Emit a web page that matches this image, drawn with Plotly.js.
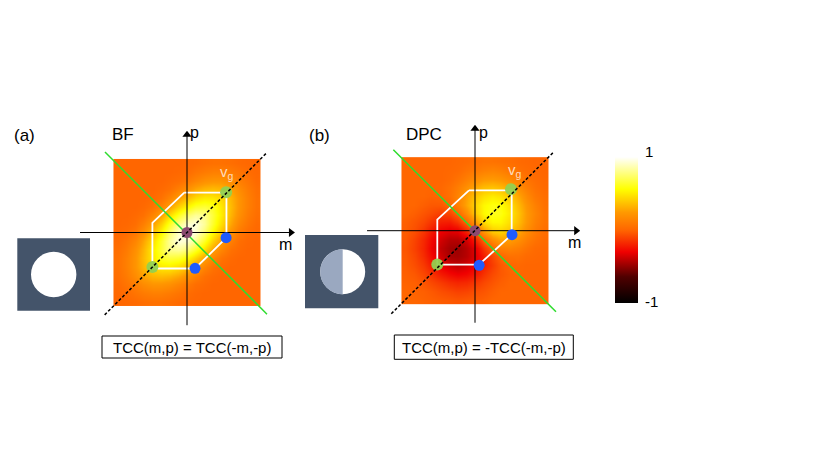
<!DOCTYPE html>
<html>
<head>
<meta charset="utf-8">
<script src="https://cdn.plot.ly/plotly-3.0.1.min.js"></script>
<style>html,body{margin:0;padding:0;background:#fff;}#chart{width:830px;height:469px;}</style>
</head>
<body>
<div id="chart"></div>
<script>
// ---------- data ----------
const mGrid = [-1,-0.875,-0.75,-0.625,-0.5,-0.375,-0.25,-0.125,0,0.125,0.25,0.375,0.5,0.625,0.75,0.875,1];
const pGrid = [-1,-0.875,-0.75,-0.625,-0.5,-0.375,-0.25,-0.125,0,0.125,0.25,0.375,0.5,0.625,0.75,0.875,1];

// TCC, bright field (rows: p from -1 to 1, cols: m from -1 to 1)
const tccBF = [
 [0,.01,.02,.04,.05,.05,.04,.02,.01,0,0,0,0,0,0,0,0],
 [.01,.03,.07,.1,.12,.12,.1,.07,.03,.01,0,0,0,0,0,0,0],
 [.02,.07,.12,.18,.22,.22,.2,.15,.09,.04,.02,0,0,0,0,0,0],
 [.04,.1,.18,.27,.33,.35,.33,.28,.2,.12,.05,.02,0,0,0,0,0],
 [.05,.12,.22,.33,.44,.49,.5,.45,.36,.25,.14,.06,.02,0,0,0,0],
 [.05,.12,.22,.35,.49,.62,.66,.64,.55,.42,.27,.15,.06,.02,0,0,0],
 [.04,.1,.2,.33,.5,.66,.8,.82,.75,.62,.45,.27,.14,.05,.02,0,0],
 [.02,.07,.15,.28,.45,.64,.82,.94,.91,.8,.62,.42,.25,.12,.04,.01,0],
 [.01,.03,.09,.2,.36,.55,.75,.91,1,.91,.75,.55,.36,.2,.09,.03,.01],
 [0,.01,.04,.12,.25,.42,.62,.8,.91,.94,.82,.64,.45,.28,.15,.07,.02],
 [0,0,.02,.05,.14,.27,.45,.62,.75,.82,.8,.66,.5,.33,.2,.1,.04],
 [0,0,0,.02,.06,.15,.27,.42,.55,.64,.66,.62,.49,.35,.22,.12,.05],
 [0,0,0,0,.02,.06,.14,.25,.36,.45,.5,.49,.44,.33,.22,.12,.05],
 [0,0,0,0,0,.02,.05,.12,.2,.28,.33,.35,.33,.27,.18,.1,.04],
 [0,0,0,0,0,0,.02,.04,.09,.15,.2,.22,.22,.18,.12,.07,.02],
 [0,0,0,0,0,0,0,.01,.03,.07,.1,.12,.12,.1,.07,.03,.01],
 [0,0,0,0,0,0,0,0,.01,.02,.04,.05,.05,.04,.02,.01,0]
];

// TCC, differential phase contrast
const tccDPC = [
 [0,0,-.01,-.02,-.03,-.04,-.05,-.04,-.03,-.02,0,0,0,0,0,0,0],
 [0,-.01,-.02,-.04,-.07,-.09,-.11,-.1,-.07,-.05,-.02,0,0,0,0,0,0],
 [-.01,-.02,-.05,-.09,-.13,-.17,-.19,-.18,-.14,-.09,-.05,-.02,0,0,0,0,0],
 [-.02,-.04,-.09,-.15,-.22,-.27,-.3,-.28,-.23,-.15,-.08,-.04,-.01,0,0,0,0],
 [-.03,-.07,-.13,-.22,-.31,-.37,-.4,-.36,-.3,-.21,-.12,-.04,0,.01,0,0,0],
 [-.04,-.09,-.17,-.27,-.37,-.45,-.46,-.42,-.33,-.22,-.09,0,.05,.05,.02,.01,0],
 [-.05,-.11,-.19,-.3,-.4,-.46,-.48,-.42,-.32,-.15,0,.12,.14,.11,.06,.02,.01],
 [-.04,-.1,-.18,-.28,-.36,-.42,-.42,-.36,-.19,0,.19,.28,.26,.2,.12,.06,.02],
 [-.03,-.07,-.14,-.23,-.3,-.33,-.32,-.19,0,.24,.4,.43,.38,.29,.18,.09,.04],
 [-.02,-.05,-.09,-.15,-.21,-.22,-.15,0,.24,.45,.54,.54,.46,.35,.23,.12,.06],
 [0,-.02,-.05,-.08,-.12,-.09,0,.19,.4,.54,.61,.59,.5,.37,.24,.14,.06],
 [0,0,-.02,-.04,-.04,0,.12,.28,.43,.54,.59,.57,.47,.34,.22,.12,.05],
 [0,0,0,-.01,0,.05,.14,.26,.38,.46,.5,.47,.39,.28,.17,.08,.04],
 [0,0,0,0,.01,.05,.11,.2,.29,.35,.37,.34,.28,.19,.11,.05,.02],
 [0,0,0,0,0,.02,.06,.12,.18,.23,.24,.22,.17,.11,.06,.03,.01],
 [0,0,0,0,0,.01,.02,.06,.09,.12,.14,.12,.08,.05,.03,.01,0],
 [0,0,0,0,0,0,.01,.02,.04,.06,.06,.05,.04,.02,.01,0,0]
];

// pupil-overlap hexagons (m, p)
const hexA_m = [-0.04, 0.57, 0.57, 0.116, -0.50, -0.50, -0.04];
const hexA_p = [0.575, 0.575, -0.075, -0.52, -0.52, 0.14, 0.575];
const hexB_m = [-0.087, 0.53, 0.53, 0.058, -0.545, -0.545, -0.087];
const hexB_p = [0.584, 0.584, -0.058, -0.49, -0.49, 0.159, 0.584];

// points
const greenA_m = [0.565, -0.50], greenA_p = [0.58, -0.50];
const blueA_m  = [0.565, 0.116], blueA_p  = [-0.075, -0.517];
const greenB_m = [0.52, -0.545], greenB_p = [0.6, -0.49];
const blueB_m  = [0.535, 0.06],  blueB_p  = [-0.058, -0.5];
const origin_m = [0], origin_p = [0];

// symmetry lines
const diagA_m = [-1.19, 1.16], diagA_p = [-1.19, 1.16];
const antiA_m = [-1.185, 1.156], antiA_p = [1.163, -1.18];
const diagB_m = [-1.21, 1.13], diagB_p = [-1.2, 1.13];
const antiB_m = [-1.18, 1.17], antiB_p = [1.17, -1.17];

// coordinate axes extents
const axA_m = [-1.546, 1.56], axA_p = [-1.34, 1.47];
const axB_m = [-1.56, 1.52],  axB_p = [-1.33, 1.53];

const cbTicks = ['1', '-1'];
const panelLabels = ['(a)', '(b)'];
const modeLabels = ['BF', 'DPC'];
const eqLabels = ['TCC(m,p) = TCC(-m,-p)', 'TCC(m,p) = -TCC(-m,-p)'];

// ---------- layout helpers ----------
const W = 830, H = 469, U = 69.2;
const cA = [187, 232.5], cB = [475, 230.7];
const xr = [-1.75, 1.75], yr = [-1.55, 1.65];
const xd = c => [(c[0] + xr[0]*U)/W, (c[0] + xr[1]*U)/W];
const yd = c => [1 - (c[1] - yr[0]*U)/H, 1 - (c[1] - yr[1]*U)/H];
const px = x => x / W, py = y => 1 - y / H;
const FONT = 'Liberation Sans, Arial, sans-serif';
const HEAD = 4 / U; // arrow head offset (4 px) in data units

const cs = [[0,'#000000'],[0.18,'#500000'],[0.35,'#f00000'],[0.5,'#ff6600'],[0.62,'#ff9900'],[0.78,'#ffff00'],[1,'#ffffff']];

const ax = (dom, r) => ({domain: dom, range: r, showgrid:false, zeroline:false, showticklabels:false, showline:false, ticks:'', fixedrange:true});

function panelTraces(xa, ya, z, hexM, hexP, axM, axP, antiM, antiP, diagM, diagP, gM, gP, bM, bP, showCb) {
  const t = [];
  t.push({type:'heatmap', x:mGrid, y:pGrid, z:z, xaxis:xa, yaxis:ya, zmin:-1, zmax:1, colorscale:cs, zsmooth:'best', hoverinfo:'skip',
    showscale: showCb,
    colorbar: {x: px(615), xanchor:'left', xpad:0, ypad:0, thickness:23, thicknessmode:'pixels', len:146, lenmode:'pixels',
      y: py(230), yanchor:'middle', outlinewidth:0, showticklabels:false, ticks:''}});
  t.push({type:'scatter', mode:'lines', x:hexM, y:hexP, xaxis:xa, yaxis:ya, line:{color:'#ffffff', width:1.8}, hoverinfo:'skip'});
  t.push({type:'scatter', mode:'lines', x:[axM[0], axM[1]-HEAD], y:[0,0], xaxis:xa, yaxis:ya, line:{color:'#000000', width:1}, hoverinfo:'skip'});
  t.push({type:'scatter', mode:'lines', x:[0,0], y:[axP[0], axP[1]-HEAD], xaxis:xa, yaxis:ya, line:{color:'#000000', width:1}, hoverinfo:'skip'});
  t.push({type:'scatter', mode:'markers', x:[axM[1]-HEAD], y:[0], xaxis:xa, yaxis:ya, marker:{symbol:'triangle-right', size:8, color:'#000000'}, hoverinfo:'skip'});
  t.push({type:'scatter', mode:'markers', x:[0], y:[axP[1]-HEAD], xaxis:xa, yaxis:ya, marker:{symbol:'triangle-up', size:8, color:'#000000'}, hoverinfo:'skip'});
  t.push({type:'scatter', mode:'lines', x:antiM, y:antiP, xaxis:xa, yaxis:ya, line:{color:'#2edc2e', width:1.5}, hoverinfo:'skip'});
  t.push({type:'scatter', mode:'markers', x:gM, y:gP, xaxis:xa, yaxis:ya, marker:{color:'rgba(146,208,80,0.95)', size:12}, hoverinfo:'skip'});
  t.push({type:'scatter', mode:'markers', x:bM, y:bP, xaxis:xa, yaxis:ya, marker:{color:'#1f5bff', size:11}, hoverinfo:'skip'});
  t.push({type:'scatter', mode:'markers', x:origin_m, y:origin_p, xaxis:xa, yaxis:ya, marker:{color:'#8b4a70', size:11}, hoverinfo:'skip'});
  t.push({type:'scatter', mode:'lines', x:diagM, y:diagP, xaxis:xa, yaxis:ya, line:{color:'#000000', width:1.5, dash:'3px,2px'}, hoverinfo:'skip'});
  return t;
}

const data = [].concat(
  panelTraces('x','y', tccBF, hexA_m, hexA_p, axA_m, axA_p, antiA_m, antiA_p, diagA_m, diagA_p, greenA_m, greenA_p, blueA_m, blueA_p, false),
  panelTraces('x2','y2', tccDPC, hexB_m, hexB_p, axB_m, axB_p, antiB_m, antiB_p, diagB_m, diagB_p, greenB_m, greenB_p, blueB_m, blueB_p, true)
);

function label(x, y, text, size, color, xanchor) {
  return {xref:'paper', yref:'paper', x:px(x), y:py(y), text:text, showarrow:false,
    xanchor: xanchor || 'center', yanchor:'middle', font:{family:FONT, size:size, color:color || '#000000'}};
}

const annotations = [
  label(24, 135, panelLabels[0], 17),
  label(122.5, 134, modeLabels[0], 17),
  label(319, 135, panelLabels[1], 17),
  label(423.5, 134, modeLabels[1], 17),
  label(194.5, 132.6, 'p', 16),
  label(285.5, 244, 'm', 16),
  label(483.5, 132, 'p', 16),
  label(574, 242, 'm', 16),
  label(227, 172, 'v<sub>g</sub>', 15, '#ffdcbc'),
  label(514.5, 170, 'v<sub>g</sub>', 15, '#ffdcbc'),
  label(192, 347, eqLabels[0], 15),
  label(483.5, 347, eqLabels[1], 15),
  label(643, 151, cbTicks[0], 15, '#000000', 'left'),
  label(643, 301.7, cbTicks[1], 15, '#000000', 'left')
];

// pupil insets and equation boxes
const P = (x, y) => px(x).toFixed(5) + ',' + py(y).toFixed(5);
const k = 0.5523;
const pc = [342.7, 271.7], pr = 22.5;
const halfPath = 'M' + P(pc[0], pc[1]-pr) +
  ' C' + P(pc[0]-k*pr, pc[1]-pr) + ' ' + P(pc[0]-pr, pc[1]-k*pr) + ' ' + P(pc[0]-pr, pc[1]) +
  ' C' + P(pc[0]-pr, pc[1]+k*pr) + ' ' + P(pc[0]-k*pr, pc[1]+pr) + ' ' + P(pc[0], pc[1]+pr) + ' Z';

const rect = (x0, y0, x1, y1, fill, lc, lw) => ({type:'rect', xref:'paper', yref:'paper', x0:px(x0), x1:px(x1), y0:py(y1), y1:py(y0),
  fillcolor:fill, line:{color:lc, width:lw}});
const circ = (cx, cy, r, fill) => ({type:'circle', xref:'paper', yref:'paper', x0:px(cx-r), x1:px(cx+r), y0:py(cy+r), y1:py(cy-r),
  fillcolor:fill, line:{width:0}});

const shapes = [
  rect(17.3, 238.3, 90, 310.7, '#44546a', '#44546a', 0),
  circ(53.7, 274.5, 22.7, '#ffffff'),
  rect(305, 235, 378.3, 308.3, '#44546a', '#44546a', 0),
  circ(pc[0], pc[1], pr, '#ffffff'),
  {type:'path', xref:'paper', yref:'paper', path: halfPath, fillcolor:'#9aa8c0', line:{width:0}},
  rect(102, 336, 282, 358, '#ffffff', '#000000', 1),
  rect(394.3, 335, 573.3, 359.3, '#ffffff', '#000000', 1)
];

const layout = {
  width: W, height: H, margin:{l:0, r:0, t:0, b:0},
  paper_bgcolor:'#ffffff', plot_bgcolor:'rgba(0,0,0,0)', showlegend:false,
  font:{family:FONT},
  xaxis: ax(xd(cA), xr), yaxis: ax(yd(cA), yr),
  xaxis2: ax(xd(cB), xr), yaxis2: ax(yd(cB), yr),
  annotations: annotations, shapes: shapes
};

Plotly.newPlot('chart', data, layout, {displayModeBar:false, staticPlot:true});
</script>
</body>
</html>
